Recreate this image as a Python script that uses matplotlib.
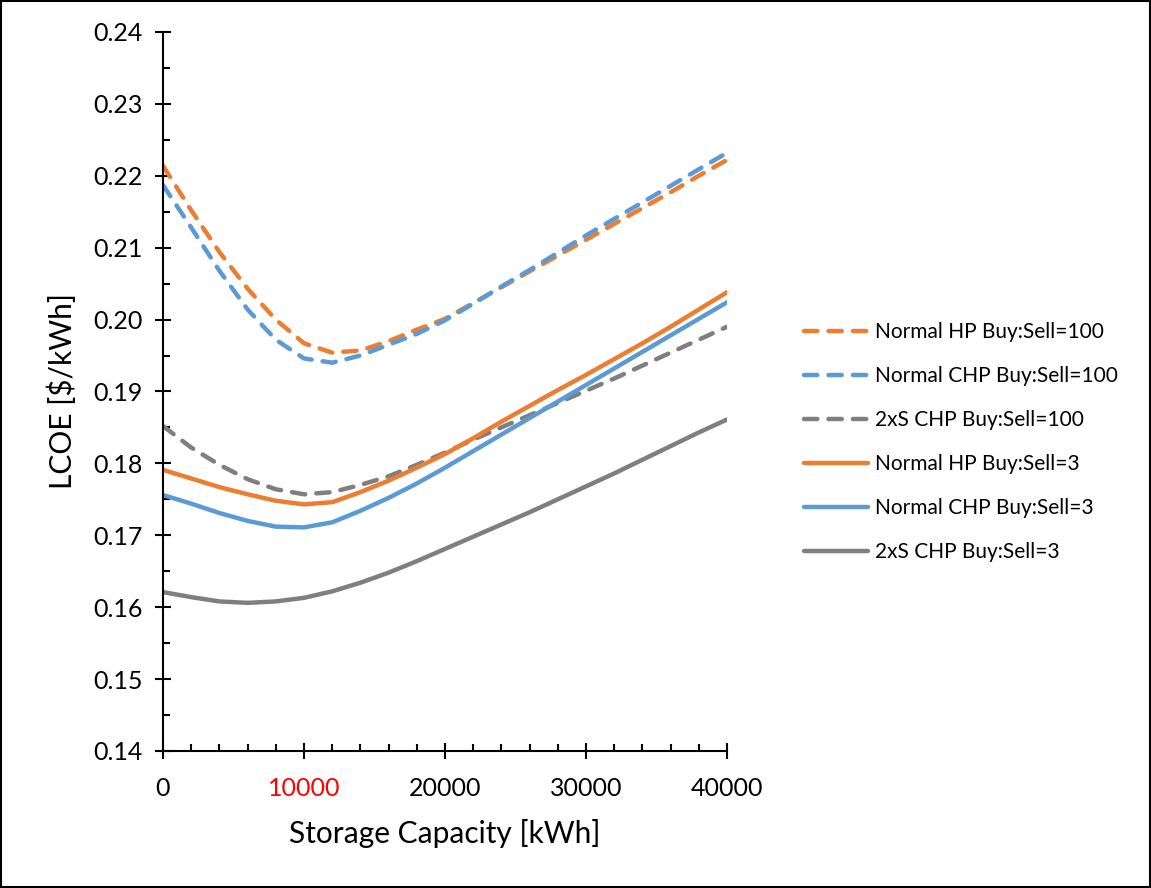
import numpy as np
import matplotlib
matplotlib.use("Agg")
from matplotlib import pyplot as plt
from matplotlib.ticker import MultipleLocator, FormatStrFormatter
from matplotlib.patches import Rectangle

plt.rcParams['font.family'] = ['Lato', 'DejaVu Sans']

# storage capacity [kWh]
capacity = [0, 2000, 4000, 6000, 8000, 10000, 12000, 14000, 16000, 18000, 20000,
            22000, 24000, 26000, 28000, 30000, 32000, 34000, 36000, 38000, 40000]

# LCOE [$/kWh]
hp_100 = [0.2214, 0.2152, 0.2094, 0.2043, 0.2000, 0.1967, 0.1954, 0.1957, 0.1970, 0.1986, 0.2001,
          0.2023, 0.2045, 0.2067, 0.2089, 0.2111, 0.2133, 0.2155, 0.2177, 0.2200, 0.2222]
chp_100 = [0.2187, 0.2128, 0.2068, 0.2014, 0.1972, 0.1946, 0.1940, 0.1950, 0.1965, 0.1980, 0.1999,
           0.2022, 0.2046, 0.2069, 0.2093, 0.2117, 0.2140, 0.2163, 0.2186, 0.2209, 0.2232]
chp2x_100 = [0.1852, 0.1822, 0.1798, 0.1778, 0.1764, 0.1757, 0.1760, 0.1770, 0.1782, 0.1798, 0.1815,
             0.1833, 0.1850, 0.1867, 0.1884, 0.1901, 0.1918, 0.1936, 0.1954, 0.1972, 0.1990]
hp_3 = [0.1791, 0.1779, 0.1767, 0.1757, 0.1748, 0.1743, 0.1746, 0.1760, 0.1776, 0.1794, 0.1813,
        0.1835, 0.1858, 0.1880, 0.1902, 0.1923, 0.1945, 0.1967, 0.1990, 0.2014, 0.2038]
chp_3 = [0.1756, 0.1744, 0.1731, 0.1720, 0.1712, 0.1711, 0.1718, 0.1734, 0.1752, 0.1772, 0.1794,
         0.1817, 0.1840, 0.1863, 0.1886, 0.1909, 0.1932, 0.1955, 0.1978, 0.2001, 0.2024]
chp2x_3 = [0.1621, 0.1614, 0.1608, 0.1606, 0.1608, 0.1613, 0.1622, 0.1634, 0.1648, 0.1664, 0.1681,
           0.1698, 0.1715, 0.1732, 0.1750, 0.1768, 0.1786, 0.1805, 0.1824, 0.1843, 0.1861]

labels = ["Normal HP Buy:Sell=100", "Normal CHP Buy:Sell=100", "2xS CHP Buy:Sell=100",
          "Normal HP Buy:Sell=3", "Normal CHP Buy:Sell=3", "2xS CHP Buy:Sell=3"]
orange = "#ED7D31"
blue = "#5B9BD5"
gray = "#7F7F7F"

fig = plt.figure(figsize=(11.51, 8.88), dpi=100)
ax = fig.add_axes([0.1416, 0.1543, 0.49, 0.8097])

series = [(hp_100, orange, True), (chp_100, blue, True), (chp2x_100, gray, True),
          (hp_3, orange, False), (chp_3, blue, False), (chp2x_3, gray, False)]
for (vals, col, dashed), lab in zip(series, labels):
    if dashed:
        ax.plot(capacity, vals, color=col, lw=3.2, label=lab,
                dashes=(3.0, 2.5), dash_capstyle="round")
    else:
        ax.plot(capacity, vals, color=col, lw=3.2, label=lab, solid_capstyle="round")

ax.set_xlim(0, 40000)
ax.set_ylim(0.14, 0.24)
ax.xaxis.set_major_locator(MultipleLocator(10000))
ax.xaxis.set_minor_locator(MultipleLocator(2000))
ax.yaxis.set_major_locator(MultipleLocator(0.01))
ax.yaxis.set_minor_locator(MultipleLocator(0.005))
ax.yaxis.set_major_formatter(FormatStrFormatter("%.2f"))

for s in ["top", "right"]:
    ax.spines[s].set_visible(False)
for s in ["left", "bottom"]:
    ax.spines[s].set_linewidth(1.5)

ax.tick_params(which="major", direction="inout", length=11, width=1.5, labelsize=18)
ax.tick_params(which="minor", direction="in", length=5, width=1.5)
ax.tick_params(axis="y", which="major", pad=9)
ax.tick_params(axis="x", which="major", pad=13)

for t in ax.get_xticklabels():
    if t.get_text() == "10000":
        t.set_color("red")

ax.set_xlabel("Storage Capacity [kWh]", fontsize=21.5, labelpad=14)
ax.set_ylabel(r"LCOE [\$/kWh]", fontsize=21.5, labelpad=12)

fig.legend(loc="center left", bbox_to_anchor=(0.682, 0.502), frameon=False,
           fontsize=15, handlelength=3.1, labelspacing=1.15, handletextpad=0.3)

# figure border
fig.patches.append(Rectangle((0.001, 0.001), 0.998, 0.998, transform=fig.transFigure,
                             fill=False, edgecolor="black", lw=1.5))

fig.savefig("out.png", dpi=100)
